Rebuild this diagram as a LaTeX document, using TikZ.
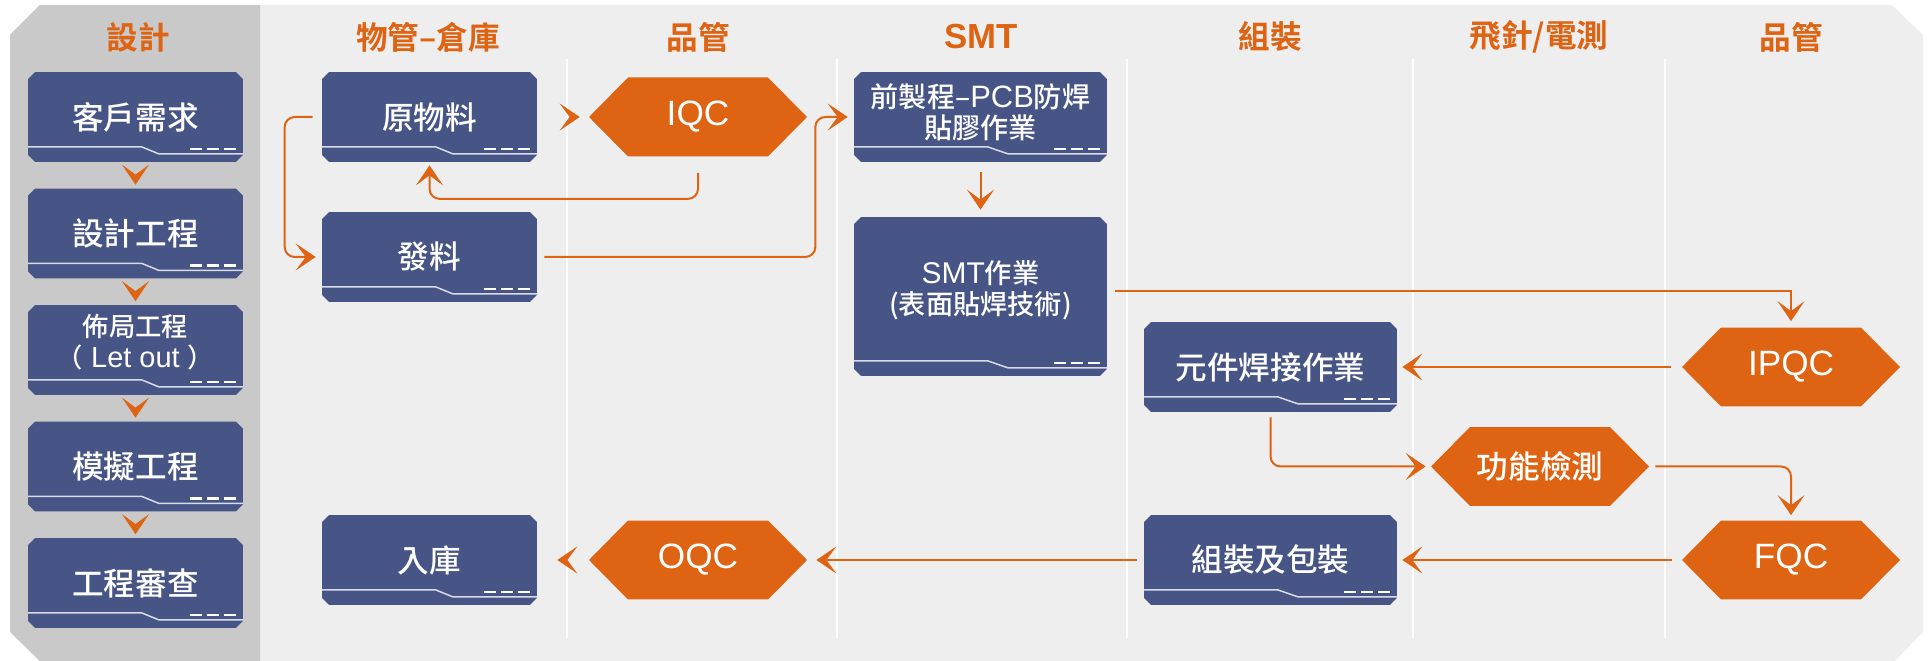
\documentclass[tikz,border=0pt]{standalone}
\usepackage{fontspec}
\setmainfont{Noto Sans CJK TC}[UprightFont={* Medium}, BoldFont={* Bold}]
\newfontfamily\latin{Liberation Sans}[Scale=1.1]
\usetikzlibrary{calc,arrows.meta,decorations.markings}

\definecolor{boxblue}{HTML}{475486}
\definecolor{qcorange}{HTML}{DE6312}
\definecolor{panelgray}{HTML}{EEEEEE}
\definecolor{designgray}{HTML}{C8C9C8}
\definecolor{stripgray}{HTML}{D8DCE8}

\tikzset{
  chev/.tip={Stealth[length=0.4cm,width=0.54cm,inset=0.2cm]},
  colhead/.style={text=qcorange, font=\bfseries\fontsize{18}{22}\selectfont},
  procbox/.style={rectangle, inner sep=0pt, minimum width=4.3cm, minimum height=1.8cm,
    text=white, align=center, font=\fontsize{18}{22}\selectfont,
    path picture={
      \fill[boxblue] let \p1=(path picture bounding box.south west),
          \p2=(path picture bounding box.north east) in
        (\x1+0.14cm,\y2) -- (\x2-0.14cm,\y2) -- (\x2,\y2-0.14cm) -- (\x2,\y1+0.14cm)
        -- (\x2-0.14cm,\y1) -- (\x1+0.14cm,\y1) -- (\x1,\y1+0.14cm) -- (\x1,\y2-0.14cm) -- cycle;
      \draw[stripgray, line width=0.03cm] let \p1=(path picture bounding box.south west),
          \p2=(path picture bounding box.north east) in
        (\x1,\y1+0.3cm) -- ({\x1+0.53*(\x2-\x1)},\y1+0.3cm)
        -- ({\x1+0.61*(\x2-\x1)},\y1+0.16cm) -- (\x2,\y1+0.16cm);
      \draw[white, line width=0.05cm, dash pattern=on 0.24cm off 0.1cm]
        let \p1=(path picture bounding box.south west),
          \p2=(path picture bounding box.north east) in
        (\x2-1.06cm,\y1+0.26cm) -- (\x2-0.14cm,\y1+0.26cm);
    }},
  widebox/.style={procbox, minimum width=5.06cm},
  twoline/.style={font=\fontsize{#1}{17.6}\selectfont},
  qchex/.style={rectangle, inner sep=0pt, minimum width=4.36cm, minimum height=1.58cm,
    text=white, font=\latin\fontsize{18.2}{22}\selectfont,
    path picture={
      \fill[qcorange] let \p1=(path picture bounding box.south west),
          \p2=(path picture bounding box.north east) in
        (\x1,{(\y1+\y2)/2}) -- (\x1+0.78cm,\y1) -- (\x2-0.78cm,\y1) -- (\x2,{(\y1+\y2)/2})
        -- (\x2-0.78cm,\y2) -- (\x1+0.78cm,\y2) -- cycle;
    }},
  flow/.style={draw=qcorange, line width=0.04cm, -chev, shorten <=0.16cm, shorten >=0.1cm},
  tiponly/.style={color=qcorange,
    decoration={markings, mark=at position -#1 with {\arrow{chev}}}, postaction={decorate}}
}

\begin{document}
\begin{tikzpicture}[x=0.02cm, y=-0.02cm]
\useasboundingbox (0,0) rectangle (1930,661);

% panel and columns
\fill[panelgray] (40,5) -- (1892,5) -- (1923,35) -- (1923,632) -- (1895,661)
  -- (40,661) -- (10,632) -- (10,35) -- cycle;
\fill[designgray] (40,5) -- (260,5) -- (260,661) -- (40,661) -- (10,632) -- (10,35) -- cycle;
\foreach \x in {567,837,1127,1413,1665}
  \draw[white, line width=0.04cm] (\x,59) -- (\x,638);

% column titles
\foreach \x/\t/\n in {138/設計/t1, 428/物管–倉庫/t2, 698/品管/t3, 981/{\latin SMT}/t4,
    1270/組裝/t5, 1539/{飛針/電測}/t6, 1791/品管/t7}
  \node[colhead] (\n) at (\x,37) {\t};

% design
\node[procbox] (kehu) at (135.5,117) {客戶需求};
\node[procbox] (sheji) at (135.5,233.5) {設計工程};
\node[procbox, twoline=15, text depth=10pt] (buju) at (135.5,350) {佈局工程\\（\hspace{0.3em}{\latin Let out}\hspace{0.3em}）};
\node[procbox] (moni) at (135.5,466.5) {模擬工程};
\node[procbox] (shencha) at (135.5,583) {工程審查};

% warehouse
\node[procbox] (yuan) at (429.5,117) {原物料};
\node[procbox] (fa) at (429.5,257) {發料};
\node[procbox] (ruku) at (429.5,560) {入庫};

% quality
\node[qchex] (iqc) at (698,117) {IQC};
\node[qchex] (oqc) at (698,560) {OQC};

% SMT
\node[widebox, twoline=16, text depth=7pt] (pre) at (980.5,117) {前製程–{\latin PCB}防焊\\貼膠作業};
\node[widebox, minimum height=3.18cm, twoline=15.5, text depth=10.5pt] (smt) at (980.5,296.5)
  {{\latin SMT}作業\\(表面貼焊技術)};

% assembly
\node[widebox] (yuanjian) at (1270.5,367) {元件焊接作業};
\node[widebox] (zuzhuang) at (1270.5,560) {組裝及包裝};

% test
\node[qchex, font=\fontsize{18}{22}\selectfont] (gongneng) at (1540,466.5) {功能檢測};
\node[qchex] (ipqc) at (1791,367) {IPQC};
\node[qchex] (fqc) at (1791,560) {FQC};

% connectors
\foreach \a/\b in {kehu/sheji, sheji/buju, buju/moni, moni/shencha}
  \path[tiponly=0.07cm] (\a) -- (\b);
\path[tiponly=0.18cm] (yuan) -- (iqc);
\path[tiponly=0.4cm] (oqc) -- (ruku);
\draw[flow, rounded corners=0.2cm, shorten <=0.32cm, shorten >=0.06cm] (iqc.south) -- ++(0,42) -| (yuan.south);
\draw[flow, rounded corners=0.2cm, shorten <=0.18cm, shorten >=0.12cm] (yuan.west) -- ++(-37,0) |- (fa.west);
\draw[flow, rounded corners=0.2cm, shorten <=0.14cm, shorten >=0.12cm] (fa.east) -- ++(278,0) |- (pre.west);
\draw[flow, shorten <=0.2cm, shorten >=0.14cm] (pre) -- (smt);
\draw[flow, shorten >=0.12cm] ([yshift=0.1cm]smt.east) -| (ipqc.north);
\draw[flow, shorten <=0.22cm] (ipqc) -- (yuanjian);
\draw[flow, rounded corners=0.2cm, shorten <=0.1cm] (yuanjian.south) |- (gongneng.west);
\draw[flow, rounded corners=0.2cm, shorten <=0.12cm] (gongneng.east) -| (fqc.north);
\draw[flow, shorten <=0.2cm] (fqc) -- (zuzhuang);
\draw[flow, shorten <=0.14cm, shorten >=0.18cm] (zuzhuang) -- (oqc);
\end{tikzpicture}
\end{document}
